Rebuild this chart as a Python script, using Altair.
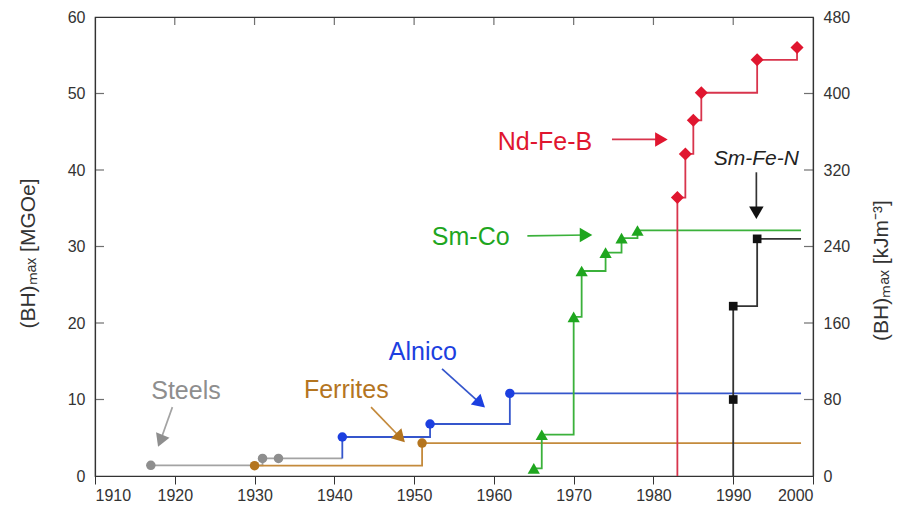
import altair as alt
import pandas as pd

# ---------------- data ----------------
series = ["Steels", "Ferrites", "Alnico", "Sm-Co", "Nd-Fe-B", "Sm-Fe-N"]

steel_years = [1917, 1931, 1933]
steel_vals = [1.4, 2.3, 2.3]
ferrite_years = [1930, 1951]
ferrite_vals = [1.35, 4.3]
alnico_years = [1941, 1952, 1962]
alnico_vals = [5.1, 6.8, 10.8]
smco_years = [1965, 1966, 1970, 1971, 1974, 1976, 1978]
smco_vals = [1.0, 5.4, 20.8, 26.8, 29.2, 31.1, 32.1]
ndfeb_years = [1983, 1984, 1985, 1986, 1993, 1998]
ndfeb_vals = [36.4, 42.1, 46.5, 50.1, 54.4, 56.0]
smfen_years = [1990, 1990, 1993]
smfen_vals = [10.0, 22.2, 31.0]

# where a step line starts before its first marker / ends after its last
line_start = {"Alnico": (1941, 2.3), "Nd-Fe-B": (1983, 0.0), "Sm-Fe-N": (1990, 0.0)}
line_end = {"Steels": (1941, 2.3), "Ferrites": (1998.5, 4.3), "Alnico": (1998.5, 10.8),
            "Sm-Co": (1998.5, 32.1), "Sm-Fe-N": (1998.5, 31.0)}

# annotations (data units)
label_series = ["Steels", "Ferrites", "Alnico", "Sm-Co", "Nd-Fe-B"]
label_years = [1921.4, 1941.5, 1951.1, 1957.1, 1966.4]
label_vals = [11.1, 11.2, 16.2, 31.2, 43.7]
smfen_label = ("Sm-Fe-N", 1992.9, 41.4)

arrow_series = ["Steels", "Ferrites", "Alnico", "Sm-Co", "Nd-Fe-B", "Sm-Fe-N"]
arrow_x1 = [1919.7, 1944.6, 1953.5, 1964.2, 1974.8, 1992.9]
arrow_y1 = [9.0, 9.0, 14.0, 31.4, 44.0, 39.7]
arrow_x2 = [1918.2, 1948.3, 1958.3, 1971.55, 1981.0, 1992.9]
arrow_y2 = [4.6, 5.0, 9.5, 31.5, 44.0, 34.4]
arrow_angle = [202, 136, 132, 90, 90, 180]

x_ticks = [1910, 1920, 1930, 1940, 1950, 1960, 1970, 1980, 1990, 2000]
y_ticks = [0, 10, 20, 30, 40, 50, 60]
kj_ticks = [0, 80, 160, 240, 320, 400, 480]
top_inner_ticks = [1920, 1930, 1940, 1950, 1960, 1970, 1980, 1990]
left_inner_ticks = [10, 20, 30, 40, 50]
right_inner_ticks = [80, 160, 240, 320, 400]

# ---------------- tables ----------------
pts = {
    "Steels": (steel_years, steel_vals),
    "Ferrites": (ferrite_years, ferrite_vals),
    "Alnico": (alnico_years, alnico_vals),
    "Sm-Co": (smco_years, smco_vals),
    "Nd-Fe-B": (ndfeb_years, ndfeb_vals),
    "Sm-Fe-N": (smfen_years, smfen_vals),
}
line_rows, point_rows = [], []
for s in series:
    ys, vs = pts[s]
    seq = []
    if s in line_start:
        seq.append(line_start[s])
    seq += list(zip(ys, vs))
    if s in line_end:
        seq.append(line_end[s])
    for i, (yr, v) in enumerate(seq):
        line_rows.append({"series": s, "yr": yr, "v": v, "o": i})
    for yr, v in zip(ys, vs):
        point_rows.append({"series": s, "yr": yr, "v": v})
lines_df = pd.DataFrame(line_rows)
points_df = pd.DataFrame(point_rows)
labels_df = pd.DataFrame({"series": label_series, "yr": label_years, "v": label_vals})
smfen_df = pd.DataFrame({"txt": [smfen_label[0]], "yr": [smfen_label[1]], "v": [smfen_label[2]]})
arrows_df = pd.DataFrame({"series": arrow_series, "yr": arrow_x1, "v": arrow_y1,
                          "yr2": arrow_x2, "v2": arrow_y2, "ang": arrow_angle})
heads_df = pd.DataFrame({"series": arrow_series, "yr": arrow_x2, "v": arrow_y2, "ang": arrow_angle})
left_ticks_df = pd.DataFrame({"yr": [1910] * len(left_inner_ticks), "v": left_inner_ticks})
top_ticks_df = pd.DataFrame({"yr": top_inner_ticks, "v": [60] * len(top_inner_ticks)})
right_ticks_df = pd.DataFrame({"yr": [2000] * len(right_inner_ticks), "kj": right_inner_ticks})

# ---------------- styles ----------------
stroke_range = ["#a3a3a3", "#c48a3c", "#3556cc", "#3bb13b", "#d8344c", "#333333"]
fill_range = ["#8e8e8e", "#b4751f", "#1c3fe0", "#1fa61f", "#e0162f", "#111111"]
marker_style = {  # shape, size
    "circle": (["Steels", "Ferrites", "Alnico"], 90),
    "triangle-up": (["Sm-Co"], 150),
    "diamond": (["Nd-Fe-B"], 170),
    "square": (["Sm-Fe-N"], 75),
}

FONT = "Liberation Sans"
xscale = alt.Scale(domain=[1910, 2000], nice=False, zero=False)
yscale = alt.Scale(domain=[0, 60], nice=False)

X = alt.X("yr:Q", scale=xscale,
          axis=alt.Axis(values=x_ticks, format="d", title=None, tickSize=8,
                        labelPadding=3, ticks=True, tickColor="#333"))
Y = alt.Y("v:Q", scale=yscale,
          axis=alt.Axis(values=y_ticks, title="(BH)ₘₐₓ [MGOe]", ticks=False,
                        labelPadding=10, titleAngle=270, titleX=-67, titleY=236,
                        titleAlign="center", titleBaseline="middle",
                        titleFontSize=21, titleFontWeight="normal"))

stroke_s = alt.Stroke("series:N", scale=alt.Scale(domain=series, range=stroke_range), legend=None)
fill_s = alt.Fill("series:N", scale=alt.Scale(domain=series, range=fill_range), legend=None)

lines = alt.Chart(lines_df).mark_line(interpolate="step-after", strokeWidth=1.8).encode(
    x=X, y=Y, stroke=stroke_s, detail="series:N", order="o:Q")

marker_layers = []
for shp, (names, sz) in marker_style.items():
    marker_layers.append(
        alt.Chart(points_df).transform_filter(
            alt.FieldOneOfPredicate(field="series", oneOf=names)
        ).mark_point(shape=shp, size=sz, filled=True, opacity=1).encode(
            x=X, y=Y, fill=fill_s)
    )

arrows = alt.Chart(arrows_df).mark_rule(strokeWidth=1.7).encode(
    x=X, y=Y, x2="yr2:Q", y2="v2:Q", stroke=stroke_s)

heads = alt.Chart(heads_df).mark_point(shape="triangle-up", filled=True, size=210, opacity=1).encode(
    x=X, y=Y, fill=fill_s, angle=alt.Angle("ang:Q", scale=None))

labels = alt.Chart(labels_df).mark_text(font=FONT, fontSize=25, align="center",
                                        baseline="middle").encode(
    x=X, y=Y, fill=fill_s, text="series:N")

smfen_text = alt.Chart(smfen_df).mark_text(font=FONT, fontSize=21, fontStyle="italic",
                                           align="center", baseline="middle",
                                           color="#222222").encode(
    x=X, y=Y, text="txt:N")

left_ticks = alt.Chart(left_ticks_df).mark_tick(orient="horizontal", size=18, thickness=1.2,
                                                color="#333", clip=True).encode(x=X, y=Y)
top_ticks = alt.Chart(top_ticks_df).mark_tick(orient="vertical", size=16, thickness=1.2,
                                              color="#333", clip=True).encode(x=X, y=Y)

left = alt.layer(lines, *marker_layers, arrows, heads, labels, smfen_text, left_ticks, top_ticks)

right = alt.Chart(right_ticks_df).mark_tick(orient="horizontal", size=18, thickness=1.2,
                                            color="#333", clip=True).encode(
    x=X,
    y=alt.Y("kj:Q", scale=alt.Scale(domain=[0, 480], nice=False),
            axis=alt.Axis(orient="right", values=kj_ticks, title="(BH)ₘₐₓ [kJm⁻³]",
                          ticks=False, labelPadding=10, titleAngle=270, titleX=68,
                          titleY=253, titleAlign="center", titleBaseline="middle",
                          titleFontSize=21, titleFontWeight="normal")))

chart = alt.layer(left, right).resolve_scale(y="independent").properties(
    width=718, height=459,
    autosize=alt.AutoSizeParams(type="none"),
    padding={"left": 87, "top": 9, "right": 80, "bottom": 30},
    background="white",
).configure_axis(
    grid=False, labelFont=FONT, labelFontSize=16, labelColor="#333",
    titleFont=FONT, titleColor="#333", domainColor="#333", domainWidth=1.2,
).configure_view(stroke="#333", strokeWidth=1.2)

chart.save("out.html", embed_options={"renderer": "svg", "actions": False})
